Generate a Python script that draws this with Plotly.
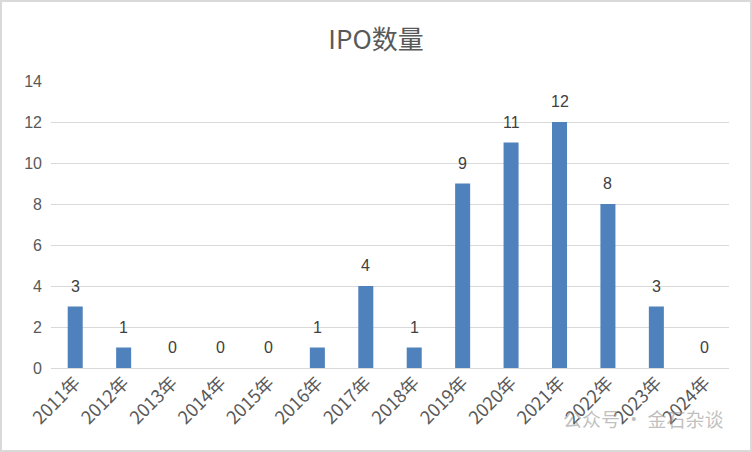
import plotly.graph_objects as go

years = ["2011年", "2012年", "2013年", "2014年", "2015年", "2016年", "2017年",
         "2018年", "2019年", "2020年", "2021年", "2022年", "2023年", "2024年"]
ipo_counts = [3, 1, 0, 0, 0, 1, 4, 1, 9, 11, 12, 8, 3, 0]
y_ticks = [0, 2, 4, 6, 8, 10, 12, 14]

W, H = 752, 452
ml, mr, mt, mb = 51, 23, 81, 84
pw, ph = W - ml - mr, H - mt - mb

font_fam = "Liberation Sans, Noto Sans CJK SC, sans-serif"

fig = go.Figure(go.Bar(
    x=years, y=ipo_counts,
    marker=dict(color="#4F81BD", line=dict(width=0)),
))

for yr, v in zip(years, ipo_counts):
    fig.add_annotation(x=yr, y=v, text=str(v), showarrow=False,
                       yanchor="bottom", yshift=10,
                       font=dict(color="#404040", size=16, family=font_fam))

fig.update_layout(
    width=W, height=H,
    margin=dict(l=ml, r=mr, t=mt, b=mb, autoexpand=False),
    paper_bgcolor="white", plot_bgcolor="white",
    bargap=0.69,
    showlegend=False,
    title=dict(text="IPO数量", x=0.5, xanchor="center", y=1 - 40 / H, yanchor="middle",
               font=dict(size=26, color="#595959", family="Noto Sans CJK SC, sans-serif")),
    font=dict(family=font_fam, color="#595959"),
)
fig.update_xaxes(
    tickangle=-45, tickfont=dict(size=18, color="#595959", family="Noto Sans CJK SC, sans-serif"),
    showline=False, showgrid=False, ticks="", automargin=False,
)
fig.update_yaxes(
    range=[0, 14], tickvals=y_ticks, tickfont=dict(size=16, color="#595959"),
    showgrid=True, gridcolor="#D9D9D9", gridwidth=1.3,
    zeroline=True, zerolinecolor="#D9D9D9", zerolinewidth=1.3,
    showline=False, ticks="", ticklabelstandoff=8, automargin=False,
)

# chart border
fig.add_shape(type="rect", xref="paper", yref="paper",
              x0=(-ml + 1) / pw, x1=1 + (mr - 1) / pw,
              y0=(-mb + 1) / ph, y1=1 + (mt - 1) / ph,
              line=dict(color="#D9D9D9", width=2), fillcolor="rgba(0,0,0,0)", layer="below")

# watermark
fig.add_annotation(text="公众号 · 金石杂谈", xref="paper", yref="paper",
                   x=1 + (mr - 26) / pw, y=-(418 - mt - ph) / ph, xanchor="right", yanchor="middle",
                   showarrow=False,
                   font=dict(size=19, color="rgba(150,150,150,0.6)", family="Noto Sans CJK SC, sans-serif"))

fig.write_html("out.html", config={"displayModeBar": False},
               post_script="document.body.style.margin='0';document.body.style.overflow='hidden';")
